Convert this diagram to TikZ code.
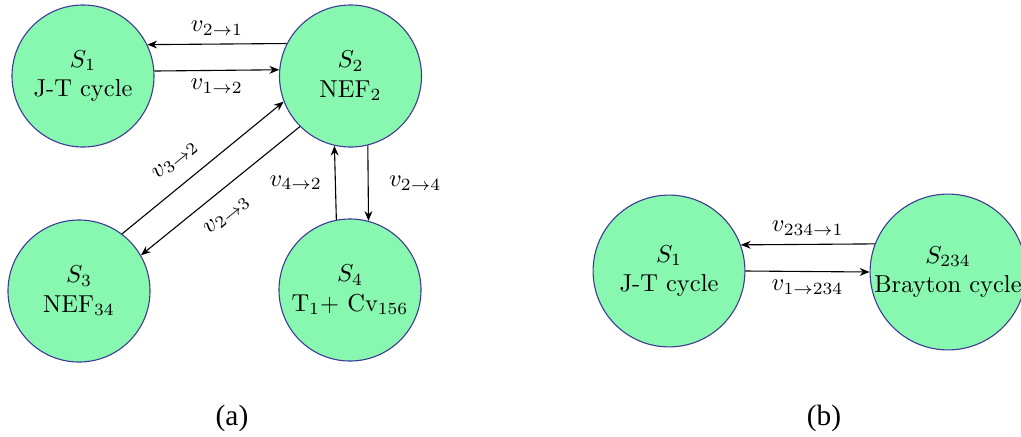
\documentclass[tikz,border=0pt]{standalone}
\usepackage{fontspec}
\newfontfamily\capfont{Liberation Serif}
\usetikzlibrary{arrows.meta}
\definecolor{statefill}{RGB}{136,248,176}
\definecolor{stateline}{RGB}{60,60,150}
\begin{document}
\begin{tikzpicture}[x=0.4084pt,y=-0.4084pt,
  state/.style={circle,draw=stateline,fill=statefill,line width=0.45pt,minimum size=58pt,inner sep=0pt,align=center,font=\normalsize},
  flow/.style={-{Stealth[length=4pt,width=3.2pt]},line width=0.45pt,black},
  lbl/.style={font=\normalsize},
  subcap/.style={font=\capfont\fontsize{12}{14}\selectfont}]
\useasboundingbox (0,0) rectangle (1021,436);
% (a)
\node[state] (S1) at (83,76) {$S_1$\\J-T cycle};
\node[state] (S2) at (350.5,76) {$S_2$\\NEF$_2$};
\node[state] (S3) at (79,291) {$S_3$\\NEF$_{34}$};
\node[state] (S4) at (350,290) {$S_4$\\T$_1$+ Cv$_{156}$};
\draw[flow] (S2.153.2) -- node[lbl,above] {$v_{2\to1}$} (S1.26.8);
\draw[flow] (S1.4.8) -- node[lbl,below] {$v_{1\to2}$} (S2.175.2);
\draw[flow] (S3.53.9) -- node[lbl,pos=0.42,sloped,above=3pt] {$v_{3\to2}$} (S2.201.6);
\draw[flow] (S2.225.8) -- node[lbl,pos=0.55,sloped,below=3pt] {$v_{2\to3}$} (S3.30.7);
\draw[flow] (S4.101.8) -- node[lbl,left=2pt] {$v_{4\to2}$} (S2.257.7);
\draw[flow] (S2.284) -- node[lbl,right=5pt] {$v_{2\to4}$} (S4.75.6);
\node[subcap] (capa) at (232,418) {(a)};
% (b)
\node[state,minimum size=62pt] (T1) at (669,271) {$S_1$\\J-T cycle};
\node[state,minimum size=62pt] (T234) at (948,272) {$S_{234}$\\Brayton cycle};
\draw[flow] (T234.159.3) -- node[lbl,above] {$v_{234\to1}$} (T1.20.7);
\draw[flow] (T1.0.5) -- node[lbl,below] {$v_{1\to234}$} (T234.180.5);
\node[subcap] (capb) at (824,418) {(b)};
\end{tikzpicture}
\end{document}
